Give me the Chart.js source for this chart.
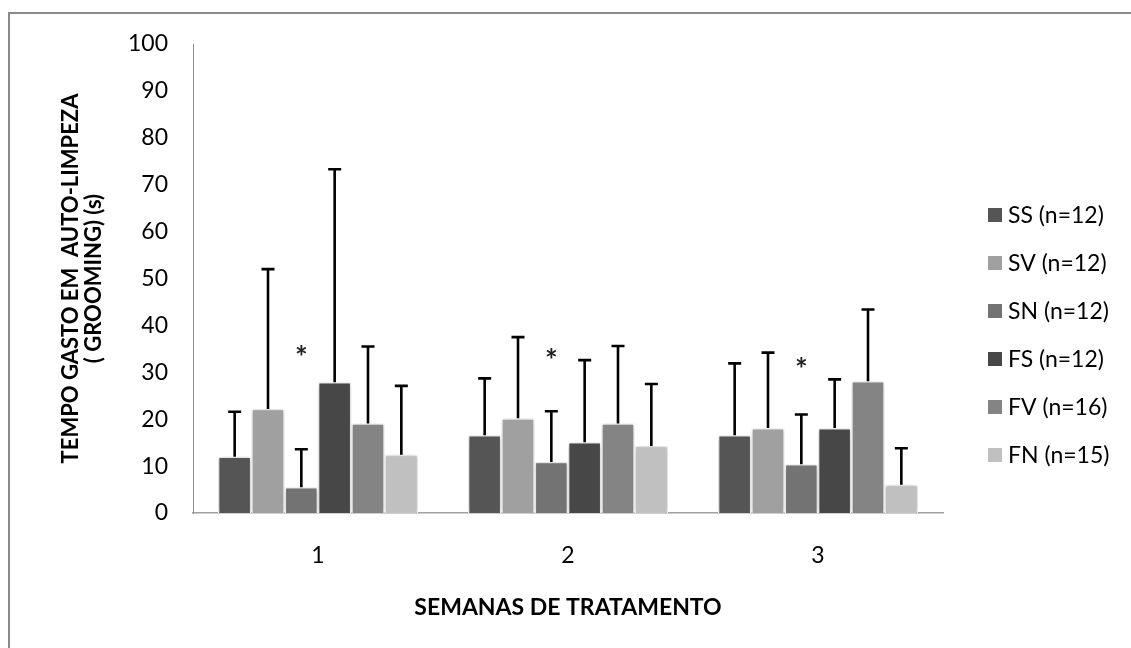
<!DOCTYPE html>
<html>
<head>
<meta charset="utf-8">
<script src="https://cdn.jsdelivr.net/npm/chart.js@4.4.1/dist/chart.umd.min.js"></script>
<style>
  html, body { margin: 0; padding: 0; background: #fff; }
  #wrap { position: relative; width: 1131px; height: 648px; }
</style>
</head>
<body>
<div id="wrap"><canvas id="c" width="1131" height="648"></canvas></div>
<script>
// ---- data ----
const categories = ['1', '2', '3'];
const seriesNames = ['SS (n=12)', 'SV (n=12)', 'SN (n=12)', 'FS (n=12)', 'FV (n=16)', 'FN (n=15)'];
const seriesColors = ['#555555', '#a0a0a0', '#737373', '#474747', '#848484', '#c0c0c0'];

const ssMean = [12.0, 16.6, 16.6];
const svMean = [22.2, 20.2, 18.1];
const snMean = [5.5, 10.9, 10.4];
const fsMean = [27.9, 15.1, 18.1];
const fvMean = [19.1, 19.1, 28.1];
const fnMean = [12.4, 14.3, 6.0];

const ssErr = [9.6, 12.1, 15.3];
const svErr = [29.8, 17.3, 16.1];
const snErr = [8.1, 10.8, 10.6];
const fsErr = [45.4, 17.5, 10.4];
const fvErr = [16.4, 16.5, 15.3];
const fnErr = [14.7, 13.2, 7.8];

const yTicks = [0, 10, 20, 30, 40, 50, 60, 70, 80, 90, 100];
const yTitle = ['TEMPO GASTO EM  AUTO-LIMPEZA', '( GROOMING) (s)'];
const xTitle = 'SEMANAS DE TRATAMENTO';

// significance markers above the SN series
const starSeriesIndex = 2;
const starValues = [34.3, 33.7, 31.8];

const means = [ssMean, svMean, snMean, fsMean, fvMean, fnMean];
const errs = [ssErr, svErr, snErr, fsErr, fvErr, fnErr];

const FONT = 'Lato, "Open Sans", sans-serif';

const decorPlugin = {
  id: 'decor',
  beforeDraw(chart) {
    const ctx = chart.ctx;
    ctx.save();
    ctx.fillStyle = '#ffffff';
    ctx.fillRect(0, 0, chart.width, chart.height);
    ctx.strokeStyle = '#8a8a8a';
    ctx.lineWidth = 2;
    ctx.beginPath();
    ctx.moveTo(9, chart.height);
    ctx.lineTo(9, 13);
    ctx.lineTo(chart.width, 13);
    ctx.stroke();
    ctx.restore();
  },
  beforeDatasetsDraw(chart) {
    const ctx = chart.ctx;
    ctx.save();
    ctx.shadowColor = 'rgba(0,0,0,0.28)';
    ctx.shadowBlur = 5;
    ctx.shadowOffsetX = 0;
    ctx.shadowOffsetY = 0;
  },
  afterDatasetsDraw(chart) {
    const ctx = chart.ctx;
    ctx.restore();
    const y = chart.scales.y;
    // error bars
    ctx.save();
    ctx.strokeStyle = '#000000';
    ctx.lineWidth = 2.6;
    ctx.lineCap = 'butt';
    chart.data.datasets.forEach((ds, di) => {
      const meta = chart.getDatasetMeta(di);
      meta.data.forEach((bar, i) => {
        const top = y.getPixelForValue(means[di][i] + errs[di][i]);
        const base = y.getPixelForValue(means[di][i]);
        ctx.beginPath();
        ctx.moveTo(bar.x, base);
        ctx.lineTo(bar.x, top);
        ctx.moveTo(bar.x - 6.5, top);
        ctx.lineTo(bar.x + 6.5, top);
        ctx.stroke();
      });
    });
    // asterisks
    ctx.fillStyle = '#222222';
    ctx.font = 'bold 30px ' + FONT;
    ctx.textAlign = 'center';
    ctx.textBaseline = 'middle';
    const meta = chart.getDatasetMeta(starSeriesIndex);
    starValues.forEach((v, i) => {
      ctx.fillText('*', meta.data[i].x, y.getPixelForValue(v) + 6);
    });
    ctx.restore();
  },
  afterDraw(chart) {
    const ctx = chart.ctx;
    const area = chart.chartArea;
    ctx.save();
    ctx.fillStyle = '#000000';
    // y title (rotated, two lines)
    ctx.font = 'bold 22px ' + FONT;
    ctx.textAlign = 'center';
    ctx.textBaseline = 'middle';
    const cy = (area.top + area.bottom) / 2;
    ctx.translate(71, cy);
    ctx.rotate(-Math.PI / 2);
    ctx.fillText(yTitle[0], 0, 0);
    ctx.fillText(yTitle[1], 0, 23);
    ctx.restore();
    // x title
    ctx.save();
    ctx.fillStyle = '#000000';
    ctx.font = 'bold 23px ' + FONT;
    ctx.textAlign = 'center';
    ctx.textBaseline = 'middle';
    ctx.fillText(xTitle, (area.left + area.right) / 2, 608);
    // legend
    ctx.font = '23px ' + FONT;
    ctx.textAlign = 'left';
    ctx.textBaseline = 'middle';
    chart.data.datasets.forEach((ds, i) => {
      const cyL = 215 + i * 48;
      ctx.fillStyle = ds.backgroundColor;
      ctx.fillRect(988, cyL - 7, 14, 14);
      ctx.fillStyle = '#000000';
      ctx.fillText(ds.label, 1008, cyL + 1);
    });
    ctx.restore();
  }
};

function build() {
  const datasets = seriesNames.map((name, i) => ({
    label: name,
    data: means[i],
    backgroundColor: seriesColors[i],
    borderColor: '#ffffff',
    borderWidth: 1.4,
    borderSkipped: 'bottom',
    barPercentage: 1.0,
    categoryPercentage: 0.8
  }));

  new Chart(document.getElementById('c'), {
    type: 'bar',
    data: { labels: categories, datasets },
    plugins: [decorPlugin],
    options: {
      responsive: false,
      animation: false,
      devicePixelRatio: 1,
      layout: { padding: { left: 0, top: 44, right: 188, bottom: 0 } },
      plugins: { legend: { display: false }, tooltip: { enabled: false } },
      scales: {
        x: {
          grid: { display: false, drawTicks: false },
          border: { display: true, color: '#a0a0a0', width: 1.5 },
          ticks: { color: '#000', font: { family: FONT, size: 23 }, padding: 29 },
          afterFit(scale) { scale.height = 135; }
        },
        y: {
          min: 0, max: 100,
          afterBuildTicks(scale) { scale.ticks = yTicks.map(v => ({ value: v })); },
          grid: { display: false, drawTicks: false },
          border: { display: true, color: '#8f8f8f', width: 1 },
          ticks: { color: '#000', font: { family: FONT, size: 23 }, padding: 25 },
          afterFit(scale) { scale.width = 193; }
        }
      }
    }
  });
}

Promise.all([
  document.fonts.load('23px Lato'),
  document.fonts.load('bold 23px Lato')
]).then(build, build);
</script>
</body>
</html>
